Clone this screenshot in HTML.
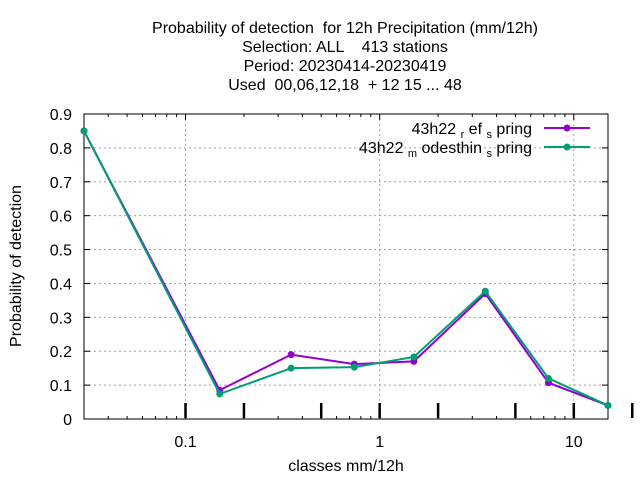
<!DOCTYPE html>
<html><head><meta charset="utf-8"><style>
body{margin:0;background:#fff;width:640px;height:480px;overflow:hidden}
svg{font-family:"Liberation Sans",sans-serif;font-size:16px}
</style></head><body>
<svg id="c" width="640" height="480" xmlns="http://www.w3.org/2000/svg">
<g text-anchor="middle" fill="#000">
<text x="345" y="33" xml:space="preserve">Probability of detection  for 12h Precipitation (mm/12h)</text>
<text x="345" y="52" xml:space="preserve">Selection: ALL    413 stations</text>
<text x="345" y="71">Period: 20230414-20230419</text>
<text x="345" y="90" xml:space="preserve">Used  00,06,12,18  + 12 15 ... 48</text>
</g>
<text transform="translate(21,266) rotate(-90)" text-anchor="middle">Probability of detection</text>
<text x="346" y="471" text-anchor="middle">classes mm/12h</text>
<g id="grid"></g><g id="axes"></g><g id="series"></g>
<g>
<text x="532" y="134" text-anchor="end" xml:space="preserve">43h22 <tspan font-size="11" dy="4">r</tspan><tspan dy="-4"> ef </tspan><tspan font-size="11" dy="4">s</tspan><tspan dy="-4"> pring</tspan></text>
<text x="532" y="153" text-anchor="end" xml:space="preserve">43h22 <tspan font-size="11" dy="4">m</tspan><tspan dy="-4"> odesthin </tspan><tspan font-size="11" dy="4">s</tspan><tspan dy="-4"> pring</tspan></text>
<line x1="544" y1="128" x2="590" y2="128" stroke="#9400d3" stroke-width="2"/>
<circle cx="567" cy="128" r="3.5" fill="#9400d3"/>
<line x1="544" y1="147" x2="590" y2="147" stroke="#009e73" stroke-width="2"/>
<circle cx="567" cy="147" r="3.5" fill="#009e73"/>
</g>
</svg>
<script>
const categories=[0.03,0.15,0.35,0.74,1.5,3.5,7.4,15];
const refValues=[0.85,0.085,0.19,0.162,0.17,0.37,0.107,0.04];
const modValues=[0.85,0.074,0.15,0.153,0.183,0.377,0.12,0.04];
const yTicks=[0,0.1,0.2,0.3,0.4,0.5,0.6,0.7,0.8,0.9];
const xTickLabels=[0.1,1,10];
const L=84,R=608,T=114,B=419,XMIN=0.03,XMAX=15,YMAX=0.9;
const NS="http://www.w3.org/2000/svg";
const xs=v=>L+(Math.log10(v)-Math.log10(XMIN))/(Math.log10(XMAX)-Math.log10(XMIN))*(R-L);
const ys=v=>B-v/YMAX*(B-T);
function mk(tag,at,parent){const e=document.createElementNS(NS,tag);for(const k in at)e.setAttribute(k,at[k]);parent.appendChild(e);return e;}
const grid=document.getElementById('grid'),axes=document.getElementById('axes'),ser=document.getElementById('series');
yTicks.forEach(v=>{const y=ys(v);
 if(v>0&&v<YMAX){const g=mk('line',{x1:L,x2:R,y1:y,y2:y,stroke:'#a0a0a0','stroke-dasharray':'2,3'},grid);
 
 }
 mk('line',{x1:L,x2:L+6,y1:y,y2:y,stroke:'#000'},axes);
 mk('line',{x1:R,x2:R-6,y1:y,y2:y,stroke:'#000'},axes);
 const t=mk('text',{x:L-12,y:y+6,'text-anchor':'end'},axes);t.textContent=v===0?'0':v.toFixed(1);
 
 });
xTickLabels.forEach(v=>{const x=xs(v);
 const g=mk('line',{x1:x,x2:x,y1:T,y2:B,stroke:'#a0a0a0','stroke-dasharray':'2,3'},grid);
 
 
 const t=mk('text',{x:x,y:B+28,'text-anchor':'middle'},axes);t.textContent=String(v);
 
 });
[0.01,0.1,1,10].forEach(d=>{for(let m=1;m<10;m++){const v=d*m;if(v<XMIN||v>XMAX)continue;const x=xs(v);const len=m===1?6:3;
 mk('line',{x1:x,x2:x,y1:B,y2:B-len,stroke:'#000'},axes);mk('line',{x1:x,x2:x,y1:T,y2:T+len,stroke:'#000'},axes);}});
[0.1,0.2,0.5,1,2,5,10,20].forEach(v=>{const x=xs(v);mk('line',{x1:x,x2:x,y1:403,y2:418,stroke:'#000','stroke-width':2.5},axes);});
const bd=mk('rect',{x:L,y:T,width:R-L,height:B-T,fill:'none',stroke:'#000'},axes);


function series(vals,col,name){
 const p=mk('polyline',{points:categories.map((c,i)=>xs(c)+','+ys(vals[i])).join(' '),fill:'none',stroke:col,'stroke-width':2},ser);
 
 
 categories.forEach((c,i)=>{const d=mk('circle',{cx:xs(c),cy:ys(vals[i]),r:3.5,fill:col},ser);
 
 });}
series(refValues,'#9400d3','ref-series');
series(modValues,'#009e73','mod-series');
</script>
</body></html>
